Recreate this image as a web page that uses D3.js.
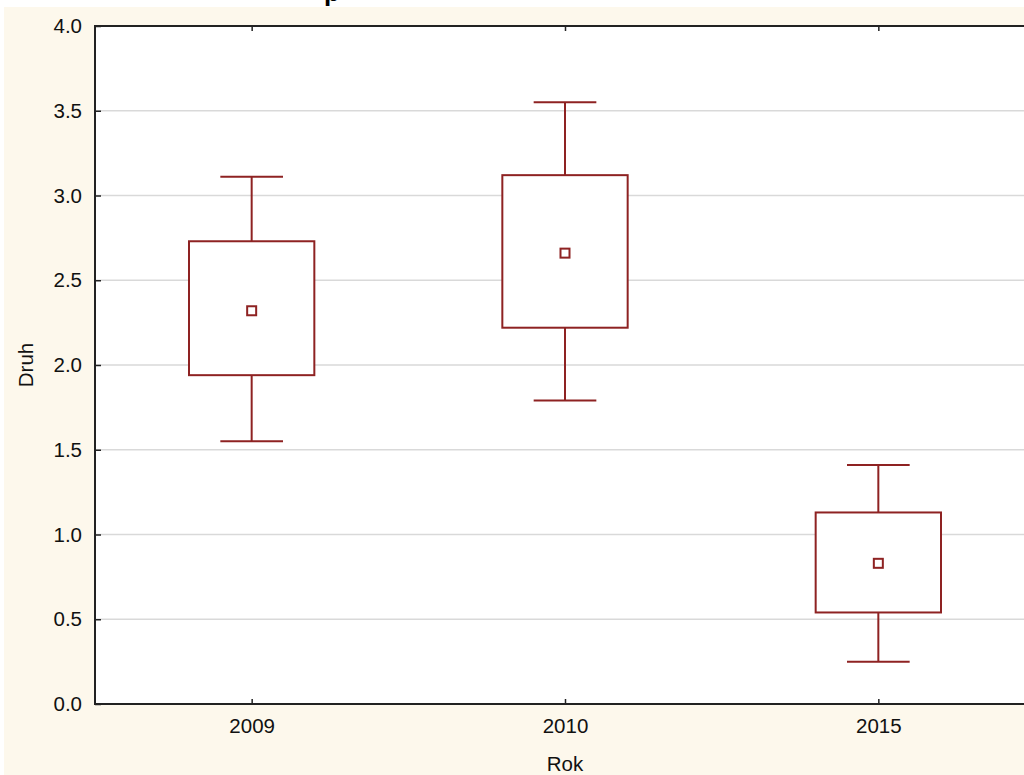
<!DOCTYPE html>
<html>
<head>
<meta charset="utf-8">
<script src="https://cdn.jsdelivr.net/npm/d3@7"></script>
<style>
  html, body { margin: 0; padding: 0; background: #ffffff; overflow: hidden; }
  text { font-family: "Liberation Sans", Arial, sans-serif; }
</style>
</head>
<body>
<svg id="chart" width="1024" height="775"></svg>
<script>
// ---- data ----
const categories   = ["2009", "2010", "2015"];
const means        = [2.32, 2.66, 0.83];
const boxLow       = [1.94, 2.22, 0.54];
const boxHigh      = [2.73, 3.12, 1.13];
const whiskerLow   = [1.55, 1.79, 0.25];
const whiskerHigh  = [3.11, 3.55, 1.41];
const yTickValues  = [0, 0.5, 1.0, 1.5, 2.0, 2.5, 3.0, 3.5, 4.0];
const titleText    = "p";
const xTitle       = "Rok";
const yTitle       = "Druh";

const svg = d3.select("#chart");
const W = 1024, H = 775;
const plot = { left: 95, top: 26, right: 1035, bottom: 704 };
const cream = "#fdf8ec";
const boxColor = "#8e2222";

// background
svg.append("rect").attr("x", 0).attr("y", 0).attr("width", W).attr("height", H).attr("fill", "#ffffff");
svg.append("rect").attr("x", 4).attr("y", 7).attr("width", W - 4).attr("height", H - 7).attr("fill", cream);

// partially visible title (only its descender shows)
svg.append("text").attr("x", 324).attr("y", 1)
  .attr("font-size", 26).attr("font-weight", "bold").attr("fill", "#000")
  .text(titleText);

// plot area
svg.append("rect").attr("x", plot.left).attr("y", plot.top)
  .attr("width", plot.right - plot.left).attr("height", plot.bottom - plot.top)
  .attr("fill", "#ffffff");

const x = d3.scalePoint().domain(categories).range([plot.left, plot.right]).padding(0.5);
const step = x.step();
const y = d3.scaleLinear().domain([0, 4]).range([plot.bottom, plot.top]);

// gridlines
svg.append("g").selectAll("line")
  .data(yTickValues.filter(v => v > 0 && v < 4))
  .join("line")
  .attr("x1", plot.left).attr("x2", plot.right)
  .attr("y1", d => y(d)).attr("y2", d => y(d))
  .attr("stroke", "#d9d9d9").attr("stroke-width", 1.5);

// y axis
const yAxis = d3.axisLeft(y).tickValues(yTickValues).tickFormat(d3.format(".1f")).tickSize(-6).tickPadding(13);
const gy = svg.append("g").attr("transform", `translate(${plot.left},0)`).call(yAxis);
gy.select(".domain").remove();
gy.selectAll(".tick line").attr("stroke", "#222").attr("stroke-width", 1.5);
gy.selectAll(".tick text").attr("font-size", 20.5).attr("fill", "#111")
  .style("font-family", "'Liberation Sans', Arial, sans-serif");

// x axis (bottom)
const xAxis = d3.axisBottom(x).tickSize(-5).tickPadding(14);
const gx = svg.append("g").attr("transform", `translate(0,${plot.bottom})`).call(xAxis);
gx.select(".domain").remove();
gx.selectAll(".tick line").attr("stroke", "#222").attr("stroke-width", 1.5);
gx.selectAll(".tick text").attr("font-size", 20.5).attr("fill", "#111")
  .style("font-family", "'Liberation Sans', Arial, sans-serif");

// top ticks
const xAxisTop = d3.axisTop(x).tickSize(-5).tickFormat("");
const gxt = svg.append("g").attr("transform", `translate(0,${plot.top})`).call(xAxisTop);
gxt.select(".domain").remove();
gxt.selectAll(".tick line").attr("stroke", "#222").attr("stroke-width", 1.5);

// plot frame
svg.append("rect").attr("x", plot.left).attr("y", plot.top)
  .attr("width", plot.right - plot.left).attr("height", plot.bottom - plot.top)
  .attr("fill", "none").attr("stroke", "#222").attr("stroke-width", 2);

// boxes
const data = categories.map((c, i) => ({
  c, mean: means[i], lo: boxLow[i], hi: boxHigh[i], wlo: whiskerLow[i], whi: whiskerHigh[i]
}));
const boxW = step * 0.4;
const capW = step * 0.2;
const g = svg.append("g").attr("stroke", boxColor).attr("stroke-width", 2).attr("fill", "none");
const grp = g.selectAll("g.box").data(data).join("g").attr("class", "box");

grp.append("line")
  .attr("x1", d => x(d.c)).attr("x2", d => x(d.c))
  .attr("y1", d => y(d.whi)).attr("y2", d => y(d.hi));
grp.append("line")
  .attr("x1", d => x(d.c)).attr("x2", d => x(d.c))
  .attr("y1", d => y(d.lo)).attr("y2", d => y(d.wlo));
grp.append("line")
  .attr("x1", d => x(d.c) - capW / 2).attr("x2", d => x(d.c) + capW / 2)
  .attr("y1", d => y(d.whi)).attr("y2", d => y(d.whi));
grp.append("line")
  .attr("x1", d => x(d.c) - capW / 2).attr("x2", d => x(d.c) + capW / 2)
  .attr("y1", d => y(d.wlo)).attr("y2", d => y(d.wlo));
grp.append("rect")
  .attr("x", d => x(d.c) - boxW / 2).attr("width", boxW)
  .attr("y", d => y(d.hi)).attr("height", d => y(d.lo) - y(d.hi))
  .attr("fill", "#ffffff");
grp.append("rect")
  .attr("x", d => x(d.c) - 4.5).attr("width", 9)
  .attr("y", d => y(d.mean) - 4.5).attr("height", 9)
  .attr("fill", "#ffffff");

// axis titles
svg.append("text").attr("x", x("2010")).attr("y", 771)
  .attr("text-anchor", "middle").attr("font-size", 20.5).attr("fill", "#111").text(xTitle);
svg.append("text")
  .attr("transform", `translate(33,${(plot.top + plot.bottom) / 2}) rotate(-90)`)
  .attr("text-anchor", "middle").attr("font-size", 20.5).attr("fill", "#111").text(yTitle);
</script>
</body>
</html>
